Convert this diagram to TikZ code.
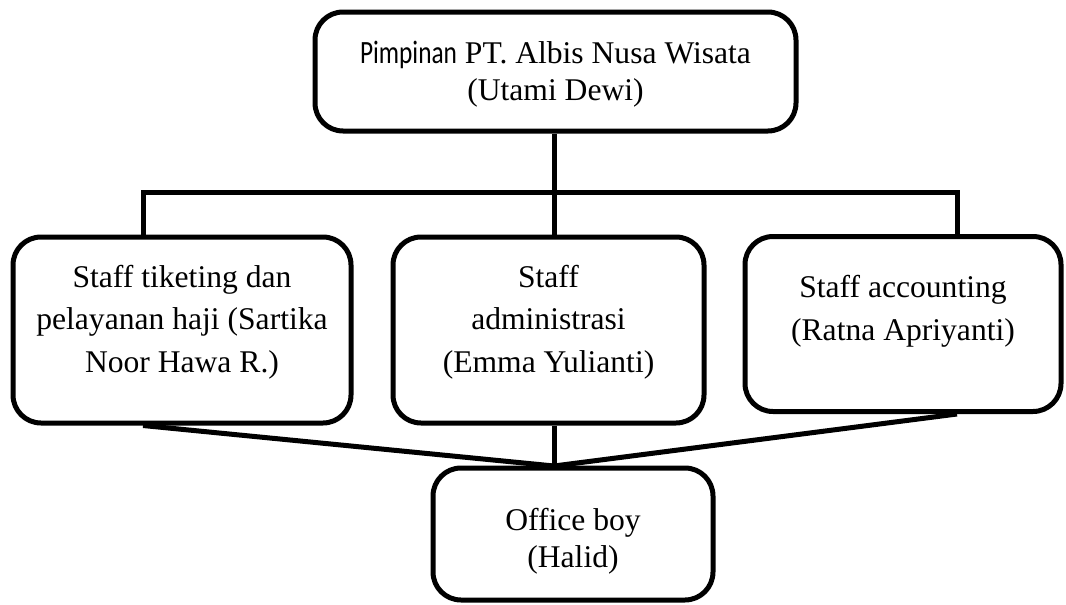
\documentclass[tikz,border=0pt]{standalone}
\usepackage{fontspec}
\setmainfont{Liberation Serif}
\newfontfamily\calibrifont[FakeStretch=0.78]{Carlito}
\tikzset{
  orgbox/.style={draw, fill=white, line width=5pt, rounded corners=28pt, align=center, inner sep=0pt, text depth=0pt},
  link/.style={line width=5pt},
}
\begin{document}
\begin{tikzpicture}[x=1pt,y=-1pt]
\useasboundingbox (0,0) rectangle (1066,605);
% kotak
\node[orgbox, minimum width=481pt, minimum height=119pt, text height=57pt, font=\fontsize{31.6}{37}\selectfont] (pimpinan) at (555.5,71.5) {{\calibrifont\fontsize{32.5}{37}\selectfont Pimpinan} PT. Albis Nusa Wisata\\(Utami Dewi)};
\node[orgbox, minimum width=338pt, minimum height=186pt, text height=84pt, font=\fontsize{31.6}{42.5}\selectfont] (tiketing) at (182,330) {Staff tiketing dan\\pelayanan haji (Sartika\\Noor Hawa R.)};
\node[orgbox, minimum width=311pt, minimum height=186pt, text height=84pt, font=\fontsize{31.6}{42.5}\selectfont] (administrasi) at (548.5,330) {Staff\\administrasi\\(Emma Yulianti)};
\node[orgbox, minimum width=316pt, minimum height=175pt, text height=32pt, font=\fontsize{31.6}{42.5}\selectfont] (accounting) at (903,324) {Staff accounting\\(Ratna Apriyanti)};
\node[orgbox, minimum width=280pt, minimum height=132pt, text height=66pt, font=\fontsize{31.6}{37}\selectfont] (officeboy) at (573,534) {Office boy\\(Halid)};
% garis
\coordinate (kiri) at (143,192);
\coordinate (kanan) at (957,192);
\coordinate (temu) at (554,466);
\draw[link] (pimpinan.south -| temu) -- (administrasi.north -| temu);
\draw[link] (kiri |- tiketing.north) -- (kiri) -- (kanan) -- (kanan |- accounting.north);
\draw[link] (administrasi.south -| temu) -- (temu);
\draw[link] (kiri |- tiketing.south) -- (temu) -- (kanan |- accounting.south);
\end{tikzpicture}
\end{document}
